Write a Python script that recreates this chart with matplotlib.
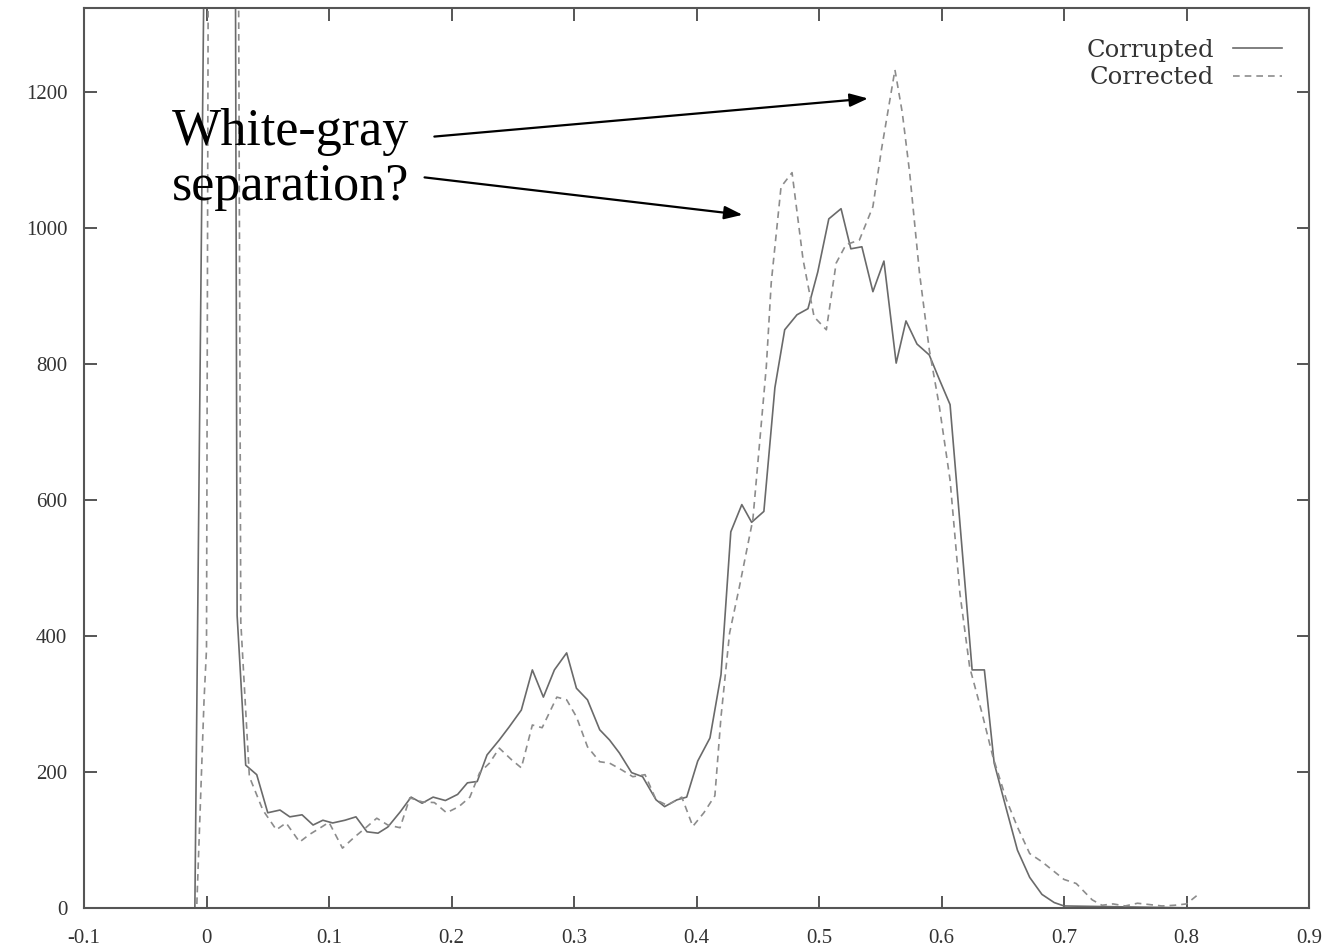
import matplotlib
matplotlib.use("Agg")
import matplotlib.pyplot as plt

# histogram values
corrupted_x = [-0.1, -0.0095, 0.004, 0.022, 0.025, 0.032, 0.041, 0.050, 0.060, 0.068,
               0.078, 0.087, 0.095, 0.103, 0.113, 0.122, 0.131, 0.140, 0.148, 0.158,
               0.167, 0.176, 0.185, 0.195, 0.205, 0.213, 0.221, 0.229, 0.239, 0.247,
               0.257, 0.266, 0.275, 0.284, 0.294, 0.302, 0.311, 0.321, 0.329, 0.337,
               0.347, 0.356, 0.367, 0.374, 0.384, 0.392, 0.401, 0.411, 0.420, 0.428,
               0.437, 0.445, 0.455, 0.464, 0.472, 0.482, 0.491, 0.499, 0.508, 0.518,
               0.526, 0.535, 0.544, 0.553, 0.563, 0.571, 0.580, 0.590, 0.598, 0.607,
               0.625, 0.635, 0.643, 0.653, 0.662, 0.672, 0.682, 0.692, 0.700, 0.81]
corrupted_y = [0, 0, 2500, 2500, 430, 210, 196, 140, 144, 134,
               137, 122, 129, 125, 129, 134, 112, 110, 119, 141,
               163, 154, 163, 158, 167, 184, 186, 225, 247, 266,
               291, 350, 310, 350, 375, 323, 306, 262, 247, 228,
               199, 193, 159, 149, 159, 163, 216, 250, 343, 553,
               593, 567, 583, 765, 850, 872, 881, 935, 1013, 1028,
               969, 972, 906, 951, 801, 863, 829, 813, 778, 740,
               350, 350, 213, 145, 85, 45, 20, 8, 3, 0]

corrected_x = [-0.1, -0.008, -0.002, 0.0, 0.003, 0.021, 0.024, 0.028, 0.035, 0.046,
               0.057, 0.065, 0.076, 0.084, 0.093, 0.100, 0.111, 0.120, 0.130, 0.139,
               0.148, 0.158, 0.166, 0.176, 0.186, 0.196, 0.206, 0.215, 0.223, 0.231,
               0.239, 0.249, 0.257, 0.266, 0.274, 0.286, 0.294, 0.302, 0.311, 0.321,
               0.329, 0.339, 0.348, 0.358, 0.367, 0.376, 0.388, 0.397, 0.406, 0.415,
               0.420, 0.427, 0.435, 0.446, 0.457, 0.461, 0.469, 0.478, 0.487, 0.496,
               0.506, 0.514, 0.522, 0.533, 0.544, 0.551, 0.562, 0.568, 0.574, 0.582,
               0.590, 0.598, 0.607, 0.615, 0.623, 0.633, 0.642, 0.653, 0.662, 0.672,
               0.682, 0.691, 0.700, 0.710, 0.723, 0.731, 0.740, 0.750, 0.760, 0.770,
               0.780, 0.790, 0.800, 0.811]
corrected_y = [0, 0, 306, 380, 2500, 2500, 2500, 420, 193, 144,
               115, 125, 97, 108, 118, 126, 88, 103, 118, 132,
               122, 118, 162, 156, 155, 140, 149, 163, 199, 213,
               235, 218, 206, 269, 265, 310, 306, 281, 237, 215,
               213, 203, 193, 196, 159, 151, 163, 120, 140, 165,
               281, 404, 472, 571, 796, 919, 1060, 1081, 953, 869,
               850, 948, 975, 982, 1031, 1115, 1232, 1169, 1081, 934,
               821, 740, 629, 463, 354, 287, 222, 159, 119, 80,
               68, 55, 42, 36, 12, 4, 6, 3, 7, 5,
               3, 4, 6, 22]

x_ticks = [-0.1, 0, 0.1, 0.2, 0.3, 0.4, 0.5, 0.6, 0.7, 0.8, 0.9]
x_labels = ["-0.1", "0", "0.1", "0.2", "0.3", "0.4", "0.5", "0.6", "0.7", "0.8", "0.9"]
y_ticks = [0, 200, 400, 600, 800, 1000, 1200]

fig = plt.figure(figsize=(13.33, 9.5), dpi=100)
ax = fig.add_axes([84 / 1333, 42 / 950, 1225 / 1333, 900 / 950])

ax.plot(corrupted_x, corrupted_y, color="#6a6a6a", lw=1.2, label="Corrupted")
ax.plot(corrected_x, corrected_y, color="#8c8c8c", lw=1.2, linestyle=(0, (4, 3)),
        label="Corrected")

ax.set_xlim(-0.1, 0.9)
ax.set_ylim(0, 1323)
ax.set_xticks(x_ticks)
ax.set_xticklabels(x_labels)
ax.set_yticks(y_ticks)
ax.tick_params(direction="in", top=True, right=True, length=9, width=1.4,
               color="#555555", labelcolor="#333333", labelsize=15)
ax.tick_params(axis="x", pad=15)
ax.tick_params(axis="y", pad=12)
for lab in ax.get_xticklabels() + ax.get_yticklabels():
    lab.set_fontfamily("Liberation Serif")
for s in ax.spines.values():
    s.set_color("#555555")
    s.set_linewidth(1.5)

leg = ax.legend(loc="upper right", bbox_to_anchor=(0.978, 0.966), frameon=False,
                markerfirst=False, handlelength=2.0, handletextpad=0.8,
                labelspacing=0.2, borderpad=0, borderaxespad=0,
                prop={"family": "DejaVu Serif", "size": 17.5})
for t in leg.get_texts():
    t.set_color("#333333")

# annotation
ax.text(-0.0286, 1122, "White-gray", fontsize=37.5, family="Liberation Serif",
        va="baseline", ha="left")
ax.text(-0.0286, 1041, "separation?", fontsize=37.5, family="Liberation Serif",
        va="baseline", ha="left")
arrow = dict(arrowstyle="-|>,head_length=1.1,head_width=0.4", color="black", lw=1.6,
             shrinkA=0, shrinkB=0)
ax.annotate("", xy=(0.540, 1190), xytext=(0.186, 1134), arrowprops=arrow)
ax.annotate("", xy=(0.4376, 1019), xytext=(0.178, 1074), arrowprops=arrow)

fig.savefig("out.png", dpi=100)
